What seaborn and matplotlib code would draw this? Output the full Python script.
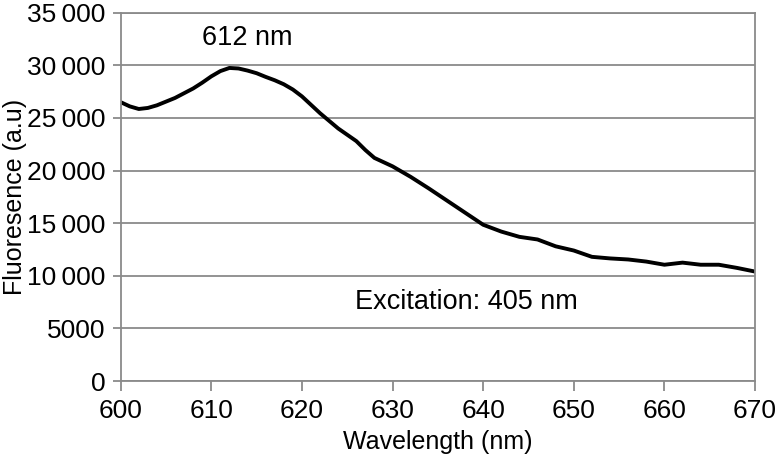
import matplotlib
matplotlib.use('Agg')
import matplotlib.pyplot as plt
import matplotlib.ticker as mticker
import seaborn as sns
import pandas as pd

# Emission spectrum values
wavelength = [600, 601, 602, 603, 604, 606, 608, 609, 610, 611,
              612, 613, 614, 615, 616, 617, 618, 619, 620, 621,
              622, 624, 626, 627, 628, 629, 630, 632, 634, 636,
              638, 640, 642, 644, 646, 648, 650, 652, 654, 656,
              658, 660, 662, 664, 666, 668, 670]
fluorescence = [26500, 26100, 25850, 25950, 26200, 26900, 27800, 28350, 28950, 29450,
                29750, 29700, 29500, 29250, 28900, 28580, 28200, 27700, 27050, 26250,
                25450, 24000, 22800, 21950, 21200, 20800, 20400, 19400, 18300, 17150,
                16000, 14850, 14200, 13700, 13450, 12800, 12400, 11800, 11650, 11550,
                11350, 11050, 11250, 11050, 11050, 10750, 10400]
x_ticks = [600, 610, 620, 630, 640, 650, 660, 670]
y_ticks = [0, 5000, 10000, 15000, 20000, 25000, 30000, 35000]
peak_label = "612 nm"
excitation_label = "Excitation: 405 nm"

df = pd.DataFrame({'wavelength': wavelength, 'fluorescence': fluorescence})

sns.set_theme(style="white")
plt.rcParams['font.family'] = ['Liberation Sans', 'DejaVu Sans']
plt.rcParams['font.size'] = 18
plt.rcParams['text.color'] = 'black'
plt.rcParams['axes.labelcolor'] = 'black'

grey = '#8a8a8a'

fig = plt.figure(figsize=(7.8, 4.62), dpi=100)
ax = fig.add_axes([0.1547, 0.1753, 0.968 - 0.1547, 0.9725 - 0.1753])

sns.lineplot(data=df, x='wavelength', y='fluorescence', ax=ax,
             color='black', linewidth=2.8, solid_joinstyle='round')

ax.set_xlim(600, 670)
ax.set_ylim(0, 35000)
ax.set_xticks(x_ticks)
ax.set_yticks(y_ticks)


def fmt_thousands(v, pos):
    v = int(v)
    if v >= 10000:
        return f"{v:,}".replace(",", "\u2009")
    return str(v)


ax.yaxis.set_major_formatter(mticker.FuncFormatter(fmt_thousands))

ax.yaxis.grid(True, color=grey, linewidth=1.3)
ax.xaxis.grid(False)
for side in ['left', 'right', 'bottom', 'top']:
    ax.spines[side].set_color(grey)
    ax.spines[side].set_linewidth(1.3)

ax.tick_params(axis='both', which='major', direction='out', length=6, width=1.3,
               color=grey, labelsize=19, labelcolor='black', pad=5)
ax.tick_params(axis='x', bottom=True, length=7, pad=6)
ax.tick_params(axis='y', left=True)

ax.set_xlabel('Wavelength (nm)', fontsize=18, labelpad=5)
ax.set_ylabel('Fluoresence (a.u)', fontsize=18, va='center')
ax.yaxis.set_label_coords(-0.167, 0.5)

ax.text(614.0, 32600, peak_label, fontsize=19.5, ha='center', va='center')
ax.text(638.2, 7500, excitation_label, fontsize=19.5, ha='center', va='center')

plt.savefig('out.png', dpi=100)
